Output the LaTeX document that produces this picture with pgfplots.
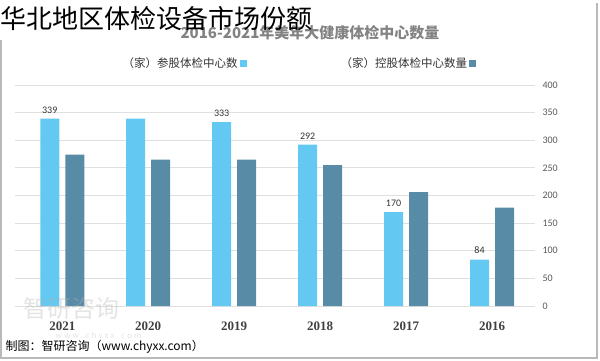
\documentclass[border=0pt]{standalone}
\usepackage{pgfplots}
\pgfplotsset{compat=1.18}
\usepackage{fontspec}
\setmainfont{Carlito}
\newfontfamily\cjk{Noto Sans CJK SC}
\newfontfamily\ser{Liberation Serif}
\definecolor{lightb}{RGB}{100,201,242}
\definecolor{darkb}{RGB}{88,140,166}
\definecolor{txtg}{RGB}{89,89,89}
\begin{document}
\begin{tikzpicture}[x=1pt,y=1pt]
\path[use as bounding box] (0,0) rectangle (600,360);
\draw[gray!55, line width=1.2pt] (1,320) -- (1,2) -- (597,2) -- (597,357);
\node[font=\cjk\bfseries\fontsize{15}{17}\selectfont, text=txtg!75] at (310,327) {2016-2021年美年大健康体检中心数量};
\begin{axis}[
  at={(15pt,54pt)}, anchor=south west,
  scale only axis, width=520pt, height=221pt,
  x dir=reverse,
  xmin=2015.5, xmax=2021.55,
  ymin=0, ymax=400,
  ytick={0,50,...,400},
  xtick={2016,2017,2018,2019,2020,2021},
  xticklabels={2016,2017,2018,2019,2020,2021},
  ymajorgrids, grid style={gray!25, line width=0.8pt},
  axis line style={draw=none},
  tick style={draw=none},
  yticklabel pos=right,
  /pgf/number format/assume math mode=true,
  yticklabel style={anchor=west, xshift=4pt, font=\fontsize{10}{12}\selectfont, text=txtg},
  xticklabel style={font=\ser\bfseries\fontsize{13}{15}\selectfont, text=black!75, yshift=-8pt},
  ybar, bar width=19pt,
  legend columns=2,
  legend plot pos=right,
  legend style={at={(axis description cs:0.545,1)}, anchor=center, yshift=22pt, draw=none, fill=none,
    font=\cjk\fontsize{11.5}{13}\selectfont, text=black!80,
    /tikz/every even column/.append style={column sep=92pt}},
  legend image code/.code={\fill[#1] (0pt,-3.5pt) rectangle (7pt,3.5pt);},
]
\addplot[fill=lightb, draw=none, bar shift=-12.5pt,
  point meta=explicit symbolic, nodes near coords,
  nodes near coords style={font=\fontsize{10}{12}\selectfont, text=black!80, yshift=2pt}]
  coordinates {(2021,339)[339] (2020,339)[] (2019,333)[333] (2018,292)[292] (2017,170)[170] (2016,84)[84]};
\addlegendentry{（家）参股体检中心数}
\addplot[fill=darkb, draw=none, bar shift=12.5pt]
  coordinates {(2021,274) (2020,265) (2019,265) (2018,255) (2017,206) (2016,178)};
\addlegendentry{（家）控股体检中心数量}
\end{axis}
\node[font=\cjk\fontsize{24}{26}\selectfont, text=gray!60, opacity=0.35, anchor=west] at (20,52) {智研咨询};
\node[font=\fontsize{9}{10}\selectfont, text=gray!60, opacity=0.35, anchor=west] at (52,24) {w w w . c h y x x . c o m};
\node[font=\cjk\fontsize{12}{14}\selectfont, text=black, anchor=west] at (2,13) {制图：智研咨询（www.chyxx.com）};
\node[font=\cjk\fontsize{26}{28}\selectfont, text=black, anchor=west, inner sep=0pt] at (0,341) {华北地区体检设备市场份额};
\end{tikzpicture}
\end{document}
